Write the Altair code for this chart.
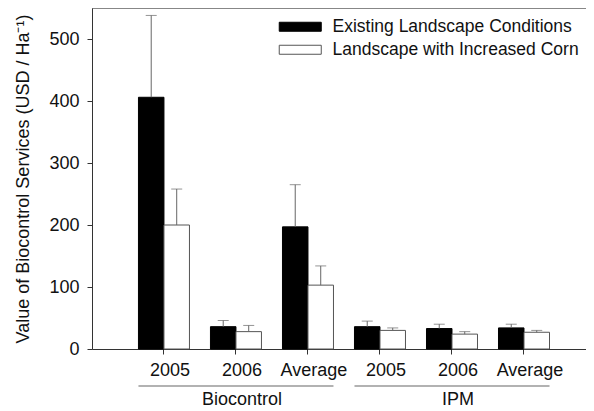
import altair as alt
import pandas as pd

# ---- data ----
groups = ["Biocontrol", "Biocontrol", "Biocontrol", "IPM", "IPM", "IPM"]
periods = ["2005", "2006", "Average", "2005", "2006", "Average"]
series = ["Existing Landscape Conditions", "Landscape with Increased Corn"]
existing = [406, 36, 197, 36, 33, 34]
existing_upper = [538, 46, 265, 45, 40, 40]
corn = [200, 28, 103, 30, 24, 27]
corn_upper = [258, 38, 134, 34, 28, 30]
y_ticks = [0, 100, 200, 300, 400, 500]
group_names = ["Biocontrol", "IPM"]

cats = [f"{g}|{p}" for g, p in zip(groups, periods)]
rows = []
for i, c in enumerate(cats):
    rows.append({"cat": c, "series": series[0], "value": existing[i], "upper": existing_upper[i]})
    rows.append({"cat": c, "series": series[1], "value": corn[i], "upper": corn_upper[i]})
df = pd.DataFrame(rows)

grp_df = pd.DataFrame({
    "group": group_names,
    "start": [f"{g}|2005" for g in group_names],
    "end": [f"{g}|Average" for g in group_names],
    "anchor": [f"{g}|2006" for g in group_names],
})

FONT = "Liberation Sans"
AX = "#333333"
FS = 18

xscale = alt.Scale(domain=cats, paddingInner=0.2917, paddingOuter=0.576, align=0.56)
xaxis = alt.Axis(title=None, labelExpr="split(datum.label,'|')[1]", labelAngle=0,
                 labelFontSize=FS, labelColor="#111", labelPadding=7, labelOffset=6,
                 tickSize=5, tickColor=AX, domainColor=AX, grid=False, labelFont=FONT)
xoff = alt.XOffset("series:N", scale=alt.Scale(domain=series, paddingInner=0, paddingOuter=0))
yscale = alt.Scale(domain=[0, 550], nice=False, zero=True)
ytitle = "Value of Biocontrol Services (USD / Ha\u207b\u00b9)"
yaxis = alt.Axis(title=ytitle, values=y_ticks, labelFontSize=FS, labelColor="#111",
                 labelPadding=8, tickSize=5, tickColor=AX, domainColor=AX, grid=False,
                 titleFontSize=18, titleFontWeight="normal", titleColor="#111",
                 titlePadding=16, labelFont=FONT, titleFont=FONT)

# wide flat swatch: path extends beyond the unit box so the entry stays short
legend = alt.Legend(title=None, orient="none", legendX=199.5, legendY=10,
                    symbolType="M-4.667,-1H4.667V1H-4.667Z", symbolSize=81,
                    labelFontSize=17.5, labelColor="#111", labelOffset=23.5, labelLimit=0,
                    labelFont=FONT, rowPadding=4, symbolStrokeWidth=1)

base = alt.Chart(df)

bars = base.mark_bar(strokeWidth=1).encode(
    x=alt.X("cat:N", scale=xscale, axis=xaxis),
    xOffset=xoff,
    y=alt.Y("value:Q", scale=yscale, axis=yaxis),
    fill=alt.Fill("series:N", scale=alt.Scale(domain=series, range=["#000000", "#ffffff"]), legend=legend),
    stroke=alt.Stroke("series:N", scale=alt.Scale(domain=series, range=["#000000", "#555555"]), legend=legend),
)

err = base.mark_rule(color="#666666", strokeWidth=1).encode(
    x=alt.X("cat:N", scale=xscale, title=None),
    xOffset=xoff,
    y=alt.Y("value:Q", scale=yscale, title=ytitle),
    y2="upper:Q",
)

caps = base.mark_tick(color="#666666", thickness=1, size=11).encode(
    x=alt.X("cat:N", scale=xscale, title=None),
    xOffset=xoff,
    y=alt.Y("upper:Q", scale=yscale, title=ytitle),
)

top = alt.Chart(pd.DataFrame({"top": [550]})).mark_rule(color=AX, strokeWidth=1).encode(
    y=alt.Y("top:Q", scale=yscale, title=ytitle)
)

glines = alt.Chart(grp_df).mark_rule(color="#999999", strokeWidth=1.5).encode(
    x=alt.X("start:N", scale=xscale, bandPosition=0, title=None),
    x2=alt.X2("end:N", bandPosition=1),
    y=alt.value(378),
)

glabels = alt.Chart(grp_df).mark_text(fontSize=FS, font=FONT, color="#111", dx=6,
                                      baseline="alphabetic").encode(
    x=alt.X("anchor:N", scale=xscale, title=None),
    y=alt.value(397),
    text="group:N",
)

chart = alt.layer(bars, err, caps, top, glines, glabels).properties(
    width=494, height=341, autosize="none",
    padding={"left": 84, "top": 0, "right": 0, "bottom": 62},
).configure_view(stroke=None).configure(font=FONT)

chart.save("out.html", embed_options={"renderer": "svg", "actions": False})
